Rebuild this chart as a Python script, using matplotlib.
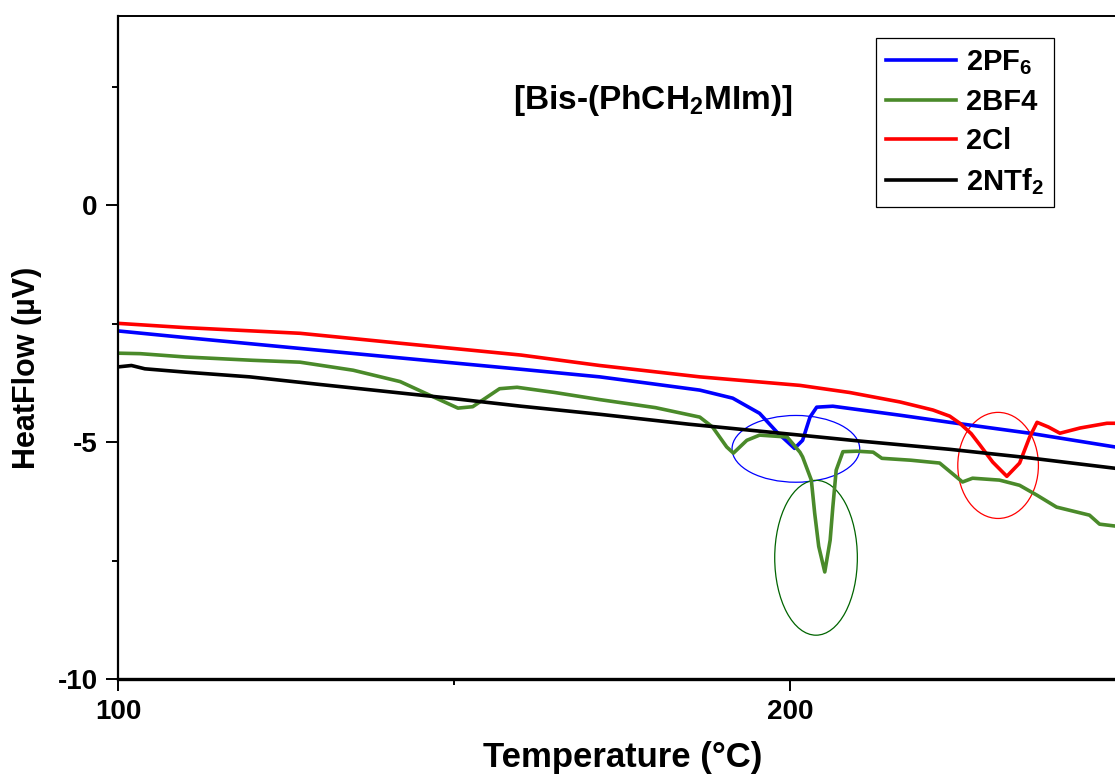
import matplotlib
matplotlib.use("Agg")
import matplotlib.pyplot as plt
from matplotlib.patches import Ellipse
from matplotlib.ticker import MultipleLocator

plt.rcParams.update({
    "font.family": ["Liberation Sans", "DejaVu Sans"],
    "font.weight": "bold",
    "axes.unicode_minus": False,
    "mathtext.fontset": "custom",
    "mathtext.rm": "Liberation Sans:bold",
    "mathtext.bf": "Liberation Sans:bold",
    "mathtext.default": "bf",
})

# temperature (degC) / heat flow (uV)
t_pf6 = [100, 110, 127.1, 142, 160, 171.7, 179.2, 186.6, 191.5, 195.5, 198.1,
         200.7, 201.9, 203.0, 204.0, 206.4, 216.4, 223.8, 235.7, 248.4]
hf_pf6 = [-2.65, -2.79, -3.02, -3.22, -3.46, -3.62, -3.76, -3.90, -4.07, -4.39, -4.79,
          -5.13, -4.96, -4.47, -4.26, -4.24, -4.43, -4.58, -4.81, -5.10]

t_bf4 = [100, 103.3, 110, 120, 127.1, 135, 142, 146.9, 150.6, 152.8, 156.8, 159.4,
         165, 171.7, 180, 186.6, 188.5, 190.6, 191.6, 193.6, 195.5, 199.6, 201.5,
         201.9, 203.2, 203.7, 204.3, 205.2, 206.0, 206.4, 206.9, 207.9, 210, 212.4,
         213.7, 218, 222.3, 225.7, 227.2, 231.2, 234.2, 236.8, 239.7, 244.6, 246.1, 248.4]
hf_bf4 = [-3.12, -3.13, -3.20, -3.27, -3.31, -3.48, -3.72, -4.04, -4.28, -4.25, -3.87, -3.84,
          -3.95, -4.10, -4.27, -4.47, -4.68, -5.10, -5.23, -4.96, -4.85, -4.89, -5.21,
          -5.31, -5.80, -6.50, -7.20, -7.74, -7.07, -6.37, -5.59, -5.20, -5.19, -5.21,
          -5.34, -5.38, -5.44, -5.84, -5.76, -5.80, -5.91, -6.12, -6.37, -6.54, -6.73, -6.77]

t_cl = [100, 110, 127.1, 142, 160, 171.7, 186.6, 201.5, 208.9, 216.4, 221.3, 223.8,
        225.3, 227.0, 228.3, 230.2, 232.3, 234.2, 235.7, 236.8, 238.5, 240.2, 243.2,
        247.2, 248.4]
hf_cl = [-2.49, -2.58, -2.70, -2.91, -3.16, -3.38, -3.62, -3.80, -3.95, -4.15, -4.32, -4.45,
         -4.60, -4.82, -5.06, -5.42, -5.72, -5.44, -4.89, -4.58, -4.68, -4.81, -4.70,
         -4.60, -4.60]

t_ntf2 = [100, 102, 104, 110, 119.6, 130, 140, 150, 160, 171.7, 185, 201.5, 210,
          223.8, 235, 248.4]
hf_ntf2 = [-3.41, -3.38, -3.45, -3.52, -3.62, -3.78, -3.93, -4.08, -4.24, -4.41, -4.62,
           -4.85, -4.97, -5.15, -5.32, -5.55]

series = [
    ("2PF$_6$", t_pf6, hf_pf6, "#0000ff"),
    ("2BF4", t_bf4, hf_bf4, "#4a8a2a"),
    ("2Cl", t_cl, hf_cl, "#ff0000"),
    ("2NTf$_2$", t_ntf2, hf_ntf2, "#000000"),
]

# highlighted transitions: centre T, centre HF, width, height, colour
marks = [
    (200.9, -5.14, 19.0, 1.41, "#0000ff"),
    (203.9, -7.44, 12.3, 3.27, "#006400"),
    (231.0, -5.49, 12.0, 2.24, "#ff0000"),
]

fig = plt.figure(figsize=(11.15, 7.78), dpi=100)
ax = fig.add_axes([118 / 1115, 1 - 679 / 778, 1 - 118 / 1115, (679 - 16) / 778])

for label, t, hf, color in series:
    ax.plot(t, hf, color=color, linewidth=2.6, label=label)

for cx, cy, w, h, color in marks:
    ax.add_patch(Ellipse((cx, cy), w, h, fill=False, edgecolor=color, linewidth=0.9))

ax.set_xlim(100, 248.4)
ax.set_ylim(-10, 4)
ax.xaxis.set_major_locator(MultipleLocator(100))
ax.xaxis.set_minor_locator(MultipleLocator(50))
ax.yaxis.set_major_locator(MultipleLocator(5))
ax.yaxis.set_minor_locator(MultipleLocator(2.5))
ax.tick_params(which="major", direction="out", length=8.5, width=1.4, labelsize=20, pad=6)
ax.tick_params(which="minor", direction="out", length=4.3, width=1.4)
for lbl in ax.get_xticklabels() + ax.get_yticklabels():
    lbl.set_fontweight("bold")

ax.spines["right"].set_visible(False)
ax.spines["left"].set_linewidth(1.6)
ax.spines["bottom"].set_linewidth(2.4)
ax.spines["top"].set_linewidth(1.4)

ax.set_xlabel("Temperature (°C)", fontsize=25, fontweight="bold")
ax.xaxis.set_label_coords(0.506, -0.118)
ax.xaxis.label.set_verticalalignment("center")
ax.set_ylabel("HeatFlow (µV)", fontsize=22, fontweight="bold")
ax.yaxis.set_label_coords(-0.091, 0.469)
ax.yaxis.label.set_verticalalignment("center")

ax.text(0.536, 0.873, "[Bis-(PhCH$_2$MIm)]", transform=ax.transAxes,
        ha="center", va="center", fontsize=24, fontweight="bold")

leg = ax.legend(loc="upper right", bbox_to_anchor=(0.939, 0.967), borderaxespad=0,
                fancybox=False, edgecolor="black", framealpha=1,
                prop={"size": 21, "weight": "bold"}, handlelength=2.4,
                handletextpad=0.35, labelspacing=0.38, borderpad=0.35)
leg.get_frame().set_linewidth(0.9)

fig.savefig("out.png", dpi=100)
